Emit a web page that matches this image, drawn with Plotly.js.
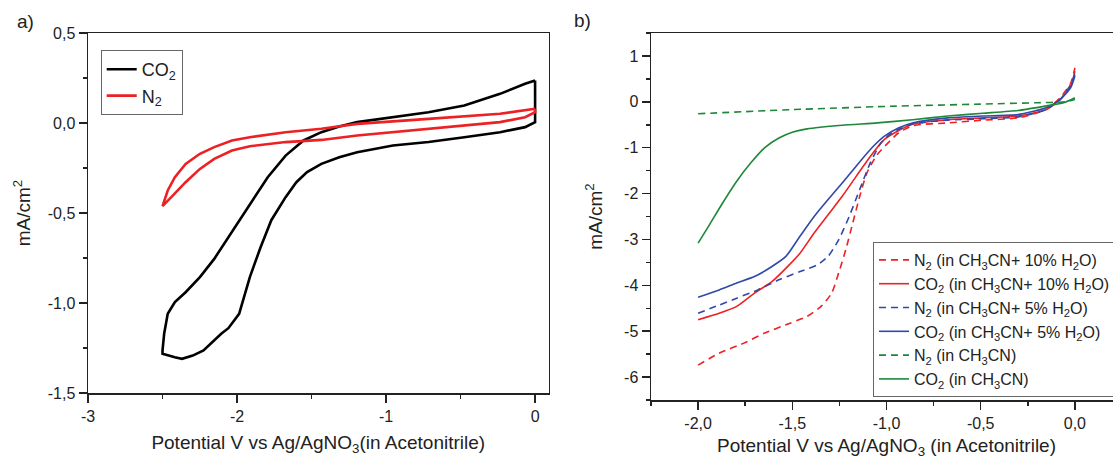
<!DOCTYPE html>
<html>
<head>
<meta charset="utf-8">
<script src="https://cdn.plot.ly/plotly-3.0.1.min.js"></script>
<style>
html, body { margin: 0; padding: 0; overflow: hidden; background: #fff; }
#chart { width: 1130px; height: 459px; }
</style>
</head>
<body>
<div id="chart"></div>
<script>
// ---------- Panel a: cyclic voltammograms ----------
var aCO2_V = [0, 0, -0.067, -0.235, -0.475, -0.715, -0.954, -1.194, -1.314, -1.434, -1.53, -1.602, -1.674, -1.77, -1.842, -1.914, -1.986, -2.058, -2.106, -2.153, -2.225, -2.297, -2.369, -2.417, -2.465, -2.50,
              -2.50, -2.489, -2.465, -2.417, -2.345, -2.249, -2.153, -2.058, -1.914, -1.794, -1.674, -1.554, -1.434, -1.314, -1.194, -0.954, -0.715, -0.475, -0.235, -0.067, 0];
var aCO2_I = [0.236, 0.005, -0.023, -0.051, -0.079, -0.106, -0.125, -0.162, -0.19, -0.227, -0.273, -0.329, -0.412, -0.54, -0.69, -0.856, -1.06, -1.14, -1.171, -1.208, -1.264, -1.292, -1.31, -1.301, -1.292, -1.282,
              -1.264, -1.171, -1.06, -0.995, -0.94, -0.856, -0.755, -0.634, -0.449, -0.301, -0.181, -0.097, -0.051, -0.019, 0.005, 0.032, 0.06, 0.097, 0.162, 0.218, 0.236];

var aN2_V = [0, -0.235, -0.715, -1.194, -1.434, -1.674, -1.914, -2.034, -2.153, -2.249, -2.345, -2.417, -2.465, -2.50,
             -2.441, -2.345, -2.249, -2.153, -2.034, -1.914, -1.674, -1.434, -1.194, -0.954, -0.715, -0.475, -0.235, -0.067, 0, 0];
var aN2_I = [0.079, 0.051, 0.023, -0.005, -0.032, -0.051, -0.079, -0.097, -0.134, -0.171, -0.227, -0.301, -0.375, -0.462,
             -0.412, -0.329, -0.255, -0.199, -0.153, -0.129, -0.106, -0.094, -0.069, -0.051, -0.032, -0.014, 0.005, 0.032, 0.06, 0.079];

// ---------- Panel b: linear sweeps ----------
var bN2_10_V = [-2, -1.888, -1.757, -1.646, -1.515, -1.422, -1.347, -1.291, -1.254, -1.216, -1.179, -1.142, -1.104, -1.049, -0.993, -0.937, -0.862, -0.675, -0.489, -0.302, -0.153, -0.078, -0.022, 0];
var bN2_10_I = [-5.74, -5.48, -5.26, -5.04, -4.83, -4.68, -4.46, -4.17, -3.73, -3.22, -2.64, -2.06, -1.55, -1.15, -0.90, -0.68, -0.52, -0.46, -0.40, -0.35, -0.17, 0.09, 0.41, 0.74];

var bCO2_10_V = [-2, -1.888, -1.795, -1.701, -1.608, -1.515, -1.459, -1.384, -1.31, -1.235, -1.16, -1.086, -1.011, -0.937, -0.862, -0.675, -0.489, -0.302, -0.153, -0.078, -0.022, 0];
var bCO2_10_I = [-4.75, -4.61, -4.46, -4.17, -3.92, -3.55, -3.30, -2.86, -2.46, -2.06, -1.62, -1.19, -0.82, -0.63, -0.49, -0.39, -0.35, -0.31, -0.17, 0.05, 0.34, 0.67];

var bN2_5_V = [-2, -1.888, -1.795, -1.683, -1.571, -1.459, -1.366, -1.31, -1.254, -1.198, -1.142, -1.086, -1.03, -0.974, -0.918, -0.862, -0.675, -0.489, -0.302, -0.153, -0.078, -0.022, 0];
var bN2_5_I = [-4.61, -4.43, -4.28, -4.10, -3.88, -3.70, -3.55, -3.37, -3.01, -2.50, -1.91, -1.33, -0.90, -0.68, -0.57, -0.48, -0.40, -0.37, -0.33, -0.17, 0.05, 0.38, 0.60];

var bCO2_5_V = [-2, -1.888, -1.795, -1.701, -1.608, -1.534, -1.459, -1.384, -1.31, -1.235, -1.16, -1.086, -1.011, -0.937, -0.862, -0.675, -0.489, -0.302, -0.153, -0.078, -0.022, 0];
var bCO2_5_I = [-4.26, -4.10, -3.95, -3.81, -3.59, -3.37, -2.93, -2.50, -2.13, -1.77, -1.40, -1.04, -0.75, -0.57, -0.46, -0.35, -0.31, -0.28, -0.13, 0.05, 0.31, 0.56];

var bN2_0_V = [-2, -1.5, -1.0, -0.5, -0.2, -0.05, 0];
var bN2_0_I = [-0.26, -0.17, -0.10, -0.05, -0.02, 0.0, 0.05];

var bCO2_0_V = [-2, -1.944, -1.869, -1.795, -1.72, -1.646, -1.571, -1.496, -1.422, -1.235, -1.049, -0.862, -0.675, -0.489, -0.302, -0.153, -0.06, 0];
var bCO2_0_I = [-3.08, -2.71, -2.20, -1.73, -1.33, -1.00, -0.79, -0.66, -0.59, -0.51, -0.46, -0.39, -0.31, -0.25, -0.19, -0.09, -0.02, 0.09];

// ---------- Tick labels ----------
var aXTickVals = [-3, -2, -1, 0];
var aXTickText = ["-3", "-2", "-1", "0"];
var aYTickVals = [-1.5, -1.0, -0.5, 0.0, 0.5];
var aYTickText = ["-1,5", "-1,0", "-0,5", "0,0", "0,5"];
var bXTickVals = [-2.0, -1.5, -1.0, -0.5, 0.0];
var bXTickText = ["-2,0", "-1,5", "-1,0", "-0,5", "0,0"];
var bYTickVals = [-6, -5, -4, -3, -2, -1, 0, 1];
var bYTickText = ["-6", "-5", "-4", "-3", "-2", "-1", "0", "1"];

var RED = "rgb(237,32,36)", BLUE = "rgb(48,72,166)", GREEN = "rgb(30,135,58)";
var FONT = "Liberation Sans, Arial, sans-serif";

var traces = [
  {x: aCO2_V, y: aCO2_I, mode: "lines", name: "CO<sub>2</sub>", line: {color: "#000", width: 2.6}, xaxis: "x", yaxis: "y", legend: "legend"},
  {x: aN2_V, y: aN2_I, mode: "lines", name: "N<sub>2</sub>", line: {color: RED, width: 2.6}, xaxis: "x", yaxis: "y", legend: "legend"},

  {x: bN2_10_V, y: bN2_10_I, mode: "lines", name: "N<sub>2</sub> (in CH<sub>3</sub>CN+ 10% H<sub>2</sub>O)", line: {color: RED, width: 1.6, dash: "7px,5px", shape: "spline", smoothing: 0.6}, xaxis: "x2", yaxis: "y2", legend: "legend2"},
  {x: bCO2_10_V, y: bCO2_10_I, mode: "lines", name: "CO<sub>2</sub> (in CH<sub>3</sub>CN+ 10% H<sub>2</sub>O)", line: {color: RED, width: 1.6, shape: "spline", smoothing: 0.6}, xaxis: "x2", yaxis: "y2", legend: "legend2"},
  {x: bN2_5_V, y: bN2_5_I, mode: "lines", name: "N<sub>2</sub> (in CH<sub>3</sub>CN+ 5% H<sub>2</sub>O)", line: {color: BLUE, width: 1.6, dash: "7px,5px", shape: "spline", smoothing: 0.6}, xaxis: "x2", yaxis: "y2", legend: "legend2"},
  {x: bCO2_5_V, y: bCO2_5_I, mode: "lines", name: "CO<sub>2</sub> (in CH<sub>3</sub>CN+ 5% H<sub>2</sub>O)", line: {color: BLUE, width: 1.6, shape: "spline", smoothing: 0.6}, xaxis: "x2", yaxis: "y2", legend: "legend2"},
  {x: bN2_0_V, y: bN2_0_I, mode: "lines", name: "N<sub>2</sub> (in CH<sub>3</sub>CN)", line: {color: GREEN, width: 1.6, dash: "7px,5px", shape: "spline", smoothing: 0.6}, xaxis: "x2", yaxis: "y2", legend: "legend2"},
  {x: bCO2_0_V, y: bCO2_0_I, mode: "lines", name: "CO<sub>2</sub> (in CH<sub>3</sub>CN)", line: {color: GREEN, width: 1.6, shape: "spline", smoothing: 0.6}, xaxis: "x2", yaxis: "y2", legend: "legend2"}
];

var W = 1130, H = 459;
var axCommon = {showgrid: false, zeroline: false, showline: true, linecolor: "#222", linewidth: 1.5,
                tickcolor: "#222", tickwidth: 1.5, ticklen: 8, fixedrange: true,
                tickfont: {family: FONT, size: 16, color: "#222"}};
function ax(extra) { return Object.assign({}, axCommon, extra); }

var domAx = [88 / W, 548.5 / W], domAy = [1 - 393 / H, 1 - 33 / H];
var domBx = [651 / W, 1122 / W], domBy = [1 - 400 / H, 1 - 33 / H];

var layout = {
  width: W, height: H,
  margin: {l: 0, r: 0, t: 0, b: 0},
  paper_bgcolor: "#fff", plot_bgcolor: "#fff",
  font: {family: FONT, color: "#222"},
  xaxis: ax({domain: domAx, range: [-3, 0.09], anchor: "y", mirror: true,
    tickmode: "array", tickvals: aXTickVals, ticktext: aXTickText, ticks: "outside",
    minor: {tickmode: "linear", tick0: -2.5, dtick: 1, ticks: "outside", ticklen: 4, tickcolor: "#222", tickwidth: 1.5},
    title: {text: "Potential V vs Ag/AgNO<sub>3</sub>(in Acetonitrile)", font: {family: FONT, size: 19, color: "#222"}, standoff: 12}}),
  yaxis: ax({domain: domAy, range: [-1.5, 0.5], anchor: "x", mirror: true,
    tickmode: "array", tickvals: aYTickVals, ticktext: aYTickText, ticks: "outside",
    minor: {tickmode: "linear", tick0: -1.25, dtick: 0.5, ticks: "outside", ticklen: 4, tickcolor: "#222", tickwidth: 1.5},
    title: {text: "mA/cm<sup>2</sup>", font: {family: FONT, size: 19, color: "#222"}, standoff: 12}}),
  xaxis3: ax({domain: domAx, range: [-3, 0.09], anchor: "y", overlaying: "x", side: "top", showline: false,
    showticklabels: false, ticks: "inside", tickmode: "linear", tick0: -2.3758, dtick: 0.6197,
    minor: {tickmode: "linear", tick0: -2.6857, dtick: 0.6197, ticks: "inside", ticklen: 4, tickcolor: "#222", tickwidth: 1.5}}),
  yaxis3: ax({domain: domAy, range: [-1.5, 0.5], anchor: "x", overlaying: "y", side: "right", showline: false,
    showticklabels: false, ticks: "inside", ticklen: 5, tickmode: "linear", tick0: 0.1, dtick: 0.2}),

  xaxis2: ax({domain: domBx, range: [-2.25, 0.25], anchor: "y2", mirror: true,
    tickmode: "array", tickvals: bXTickVals, ticktext: bXTickText, ticks: "outside",
    minor: {tickmode: "linear", tick0: -1.75, dtick: 0.5, ticks: "outside", ticklen: 4, tickcolor: "#222", tickwidth: 1.5},
    title: {text: "Potential V vs Ag/AgNO<sub>3</sub> (in Acetonitrile)", font: {family: FONT, size: 19, color: "#222"}, standoff: 10}}),
  yaxis2: ax({domain: domBy, range: [-6.5, 1.5], anchor: "x2", mirror: true,
    tickmode: "array", tickvals: bYTickVals, ticktext: bYTickText, ticks: "outside",
    minor: {tickmode: "linear", tick0: -5.5, dtick: 1, ticks: "outside", ticklen: 4, tickcolor: "#222", tickwidth: 1.5},
    title: {text: "mA/cm<sup>2</sup>", font: {family: FONT, size: 19, color: "#222"}, standoff: 16}}),
  xaxis4: ax({domain: domBx, range: [-2.25, 0.25], anchor: "y2", overlaying: "x2", side: "top", showline: false,
    showticklabels: false, ticks: "inside", tickmode: "linear", tick0: -2.0, dtick: 0.25}),

  legend: {x: 100.7 / W, y: 1 - 50 / H, xanchor: "left", yanchor: "top", bgcolor: "#fff",
    bordercolor: "#666", borderwidth: 1, font: {family: FONT, size: 18, color: "#222"}, traceorder: "normal"},
  legend2: {x: 873 / W, y: 1 - 242 / H, xanchor: "left", yanchor: "top", bgcolor: "#fff",
    bordercolor: "#666", borderwidth: 1, font: {family: FONT, size: 16, color: "#222"}, traceorder: "normal"},

  annotations: [
    {text: "a)", xref: "paper", yref: "paper", x: 25 / W, y: 1 - 22 / H, xanchor: "center", yanchor: "middle", showarrow: false, font: {family: FONT, size: 19, color: "#222"}},
    {text: "b)", xref: "paper", yref: "paper", x: 582 / W, y: 1 - 20 / H, xanchor: "center", yanchor: "middle", showarrow: false, font: {family: FONT, size: 19, color: "#222"}}
  ],
  showlegend: true
};

Plotly.newPlot("chart", traces, layout, {displayModeBar: false, staticPlot: true});
</script>
</body>
</html>
